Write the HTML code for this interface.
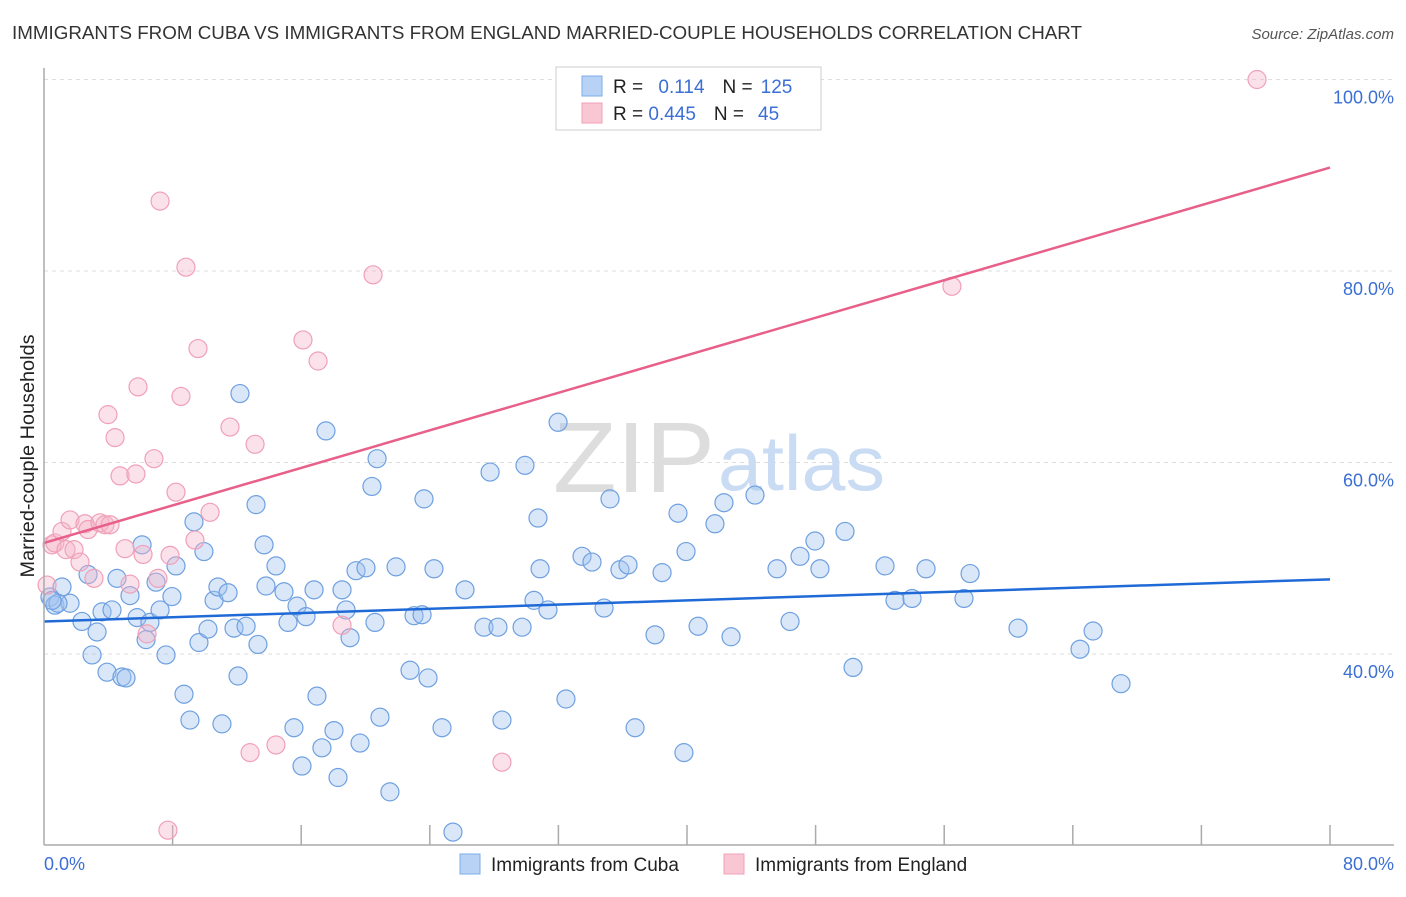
<!DOCTYPE html>
<html><head><meta charset="utf-8"><style>
body{margin:0;background:#fff;font-family:"Liberation Sans",sans-serif;}
svg text{font-family:"Liberation Sans",sans-serif;}
</style></head><body>
<svg id="chart" width="1406" height="892" xmlns="http://www.w3.org/2000/svg">
<text x="12" y="39" font-size="18" fill="#333" textLength="1070" lengthAdjust="spacingAndGlyphs">IMMIGRANTS FROM CUBA VS IMMIGRANTS FROM ENGLAND MARRIED-COUPLE HOUSEHOLDS CORRELATION CHART</text>
<text x="1394" y="39" font-size="15" fill="#555" text-anchor="end" font-style="italic">Source: ZipAtlas.com</text>
<g id="grid"></g>
<text x="553" y="492" font-size="100" fill="#ddd" font-family="Liberation Serif" textLength="162" lengthAdjust="spacingAndGlyphs">ZIP</text>
<text x="718" y="490" font-size="78" fill="#c9dcf3" textLength="167" lengthAdjust="spacingAndGlyphs">atlas</text>
<g id="marks"></g>
<line x1="44" y1="68" x2="44" y2="845" stroke="#aaa" stroke-width="1.5"/>
<line x1="44" y1="845" x2="1394" y2="845" stroke="#aaa" stroke-width="1.5"/>
<text x="44" y="870" font-size="18" fill="#3b6fd4">0.0%</text>
<text x="1394" y="870" font-size="18" fill="#3b6fd4" text-anchor="end">80.0%</text>
<text transform="translate(34,456) rotate(-90)" font-size="19" fill="#222" text-anchor="middle" textLength="243" lengthAdjust="spacingAndGlyphs">Married-couple Households</text>
<g>
<rect x="556" y="67" width="265" height="63" fill="#fff" stroke="#ccc"/>
<rect x="582" y="76" width="20" height="20" fill="#b8d2f5" stroke="#7aaee8"/>
<rect x="582" y="103" width="20" height="20" fill="#f9c6d4" stroke="#f0a0b8"/>
<text x="613" y="93" font-size="19" fill="#222">R = <tspan fill="#3b6fd4" dx="10">0.114</tspan><tspan fill="#222" dx="18">N =</tspan><tspan fill="#3b6fd4" dx="8">125</tspan></text>
<text x="613" y="120" font-size="19" fill="#222">R = <tspan fill="#3b6fd4">0.445</tspan><tspan fill="#222" dx="18">N =</tspan><tspan fill="#3b6fd4" dx="14">45</tspan></text>
</g>
<rect x="460" y="854" width="20" height="20" fill="#b8d2f5" stroke="#7aaee8"/>
<text x="491" y="871" font-size="19" fill="#222">Immigrants from Cuba</text>
<rect x="724" y="854" width="20" height="20" fill="#f9c6d4" stroke="#f0a0b8"/>
<text x="755" y="871" font-size="19" fill="#222">Immigrants from England</text>
</svg>
<script>
const yTicks=[40,60,80,100];
const xTicks=[0,8,16,24,32,40,48,56,64,72,80];
const cubaX=[0.37,0.68,1.12,1.62,0.87,0.5,2.36,2.74,2.99,3.3,3.61,3.92,4.23,4.54,4.85,5.1,5.35,5.79,6.1,6.35,6.59,6.97,7.22,7.59,7.96,8.21,8.71,9.08,9.33,9.64,9.95,10.2,10.58,10.82,11.07,11.45,11.82,12.07,12.19,12.57,13.19,13.31,13.69,13.81,14.43,14.93,15.18,15.55,15.74,16.05,16.3,16.8,16.98,17.29,17.54,18.04,18.29,18.54,18.79,19.04,19.41,19.66,20.03,20.4,20.59,20.72,20.9,21.52,21.9,22.77,23.02,23.52,23.64,23.89,24.26,24.76,25.44,26.19,27.37,27.75,28.24,28.49,29.74,29.92,30.48,30.73,30.86,31.35,31.98,32.47,33.47,34.09,34.84,35.21,35.83,36.33,36.77,38.01,38.45,39.44,39.81,39.94,40.69,41.74,42.3,42.74,44.23,45.6,46.41,47.03,47.96,48.27,49.83,50.33,52.32,52.94,54.0,54.87,57.23,57.61,60.59,64.45,65.26,67.0];
const cubaY=[45.95,45.1,47.0,45.3,45.3,45.6,43.4,48.3,39.9,42.3,44.4,38.1,44.6,47.9,37.6,37.5,46.1,43.8,51.4,41.5,43.3,47.5,44.6,39.9,46.0,49.2,35.8,33.1,53.8,41.2,50.7,42.6,45.6,47.0,32.7,46.4,42.7,37.7,67.2,42.9,55.6,41.0,51.4,47.1,49.2,46.5,43.3,32.3,45.0,28.3,43.9,46.7,35.6,30.2,63.3,32.0,27.1,46.7,44.6,41.7,48.7,30.7,49.0,57.5,43.3,60.4,33.4,25.6,49.1,38.3,44.0,44.1,56.2,37.5,48.9,32.3,21.4,46.7,42.8,59.0,42.8,33.1,42.8,59.7,45.6,54.2,48.9,44.6,64.2,35.3,50.2,49.6,44.8,56.2,48.8,49.3,32.3,42.0,48.5,54.7,29.7,50.7,42.9,53.6,55.8,41.8,56.6,48.9,43.4,50.2,51.8,48.9,52.8,38.6,49.2,45.6,45.8,48.9,45.8,48.4,42.7,40.5,42.4,36.9];
const engX=[0.19,0.5,0.68,1.12,1.37,1.62,1.87,2.24,2.55,2.74,3.11,3.48,3.79,4.11,3.98,4.42,4.73,5.04,5.35,5.72,5.85,6.16,6.41,6.84,7.09,7.22,7.84,8.21,8.52,8.83,9.39,9.58,10.33,11.57,12.82,13.13,14.43,16.11,17.05,18.54,20.47,28.49,56.48,75.46,7.71];
const engY=[47.2,51.4,51.6,52.8,50.9,54.0,50.9,49.6,53.6,53.0,47.9,53.7,53.5,53.5,65.0,62.6,58.6,51.0,47.3,58.8,67.9,50.4,42.1,60.4,47.9,87.3,50.3,56.9,66.9,80.4,51.9,71.9,54.8,63.7,29.7,61.9,30.5,72.8,70.6,43.0,79.6,28.7,78.4,100.0,21.6];
const cubaTrend=[43.4,47.8];
const engTrend=[51.6,90.8];
const trendX=[0,80];
const NS='http://www.w3.org/2000/svg';
function sx(v){return 44+v*(1286/80);}
function sy(v){return 1037-v*9.575;}
function mk(t,a,p){const e=document.createElementNS(NS,t);for(const k in a)e.setAttribute(k,a[k]);p.appendChild(e);return e;}
const grid=document.getElementById('grid');
yTicks.forEach(t=>{
 const l=mk('line',{x1:44,x2:1394,y1:sy(t),y2:sy(t),stroke:'#ddd','stroke-dasharray':'4,4'},grid);
 
 
 const tx=mk('text',{x:1394,y:sy(t)+24,'font-size':18,fill:'#3b6fd4','text-anchor':'end'},grid);
 tx.textContent=t.toFixed(1)+'%';
 
 
});
xTicks.forEach((t,i)=>{
 if(i===0)return;
 const l=mk('line',{x1:sx(t),x2:sx(t),y1:825,y2:845,stroke:'#aaa','stroke-width':1.5},grid);
 
 
});
const marks=document.getElementById('marks');
cubaX.forEach((x,i)=>{
 const c=mk('circle',{cx:sx(x),cy:sy(cubaY[i]),r:9,fill:'rgba(160,195,240,0.4)',stroke:'#6fa0e0','stroke-width':1.2},marks);
 
 
});
engX.forEach((x,i)=>{
 const c=mk('circle',{cx:sx(x),cy:sy(engY[i]),r:9,fill:'rgba(245,180,200,0.4)',stroke:'#f0a0b8','stroke-width':1.2},marks);
 
 
});
const bl=mk('line',{x1:sx(trendX[0]),x2:sx(trendX[1]),y1:sy(cubaTrend[0]),y2:sy(cubaTrend[1]),stroke:'#1f6ad6','stroke-width':2.5},marks);


const pl=mk('line',{x1:sx(trendX[0]),x2:sx(trendX[1]),y1:sy(engTrend[0]),y2:sy(engTrend[1]),stroke:'#e8608a','stroke-width':2.5},marks);


</script>
</body></html>
